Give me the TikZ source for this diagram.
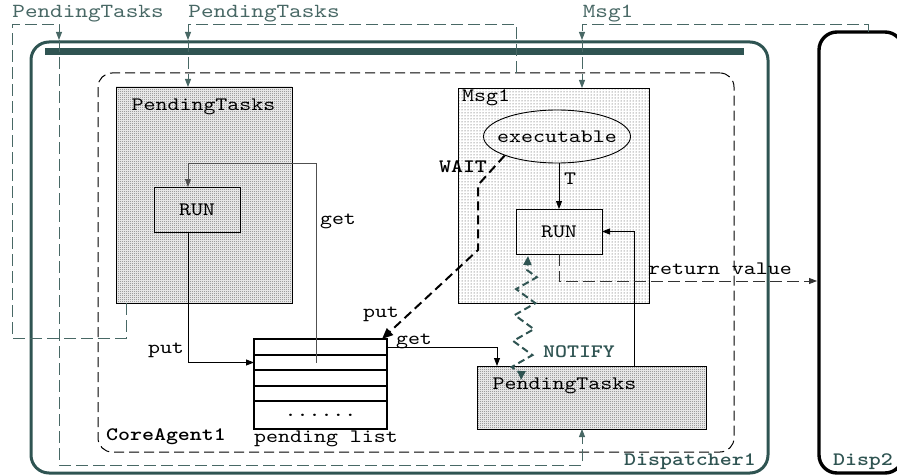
\documentclass[tikz,border=0pt]{standalone}
\usepackage{fontspec}
\setmonofont{lmmono10-regular.otf}[BoldFont=lmmonolt10-bold.otf, FakeStretch=1.2]
\usetikzlibrary{arrows.meta, patterns, patterns.meta, decorations.pathmorphing, shapes.geometric}
\definecolor{tealD}{RGB}{47,84,82}
\definecolor{tealL}{RGB}{72,104,101}
\definecolor{lineG}{RGB}{80,80,80}
\tikzdeclarepattern{
  name=densedots,
  type=uncolored,
  bounding box={(0pt,0pt) and (2pt,2pt)},
  tile size={(2pt,2pt)},
  code={
    \fill (0pt,0pt) rectangle (1pt,1pt);
    \fill (1pt,1pt) rectangle (2pt,2pt);
  }
}
\tikzset{
  txt/.style={font=\ttfamily\fontsize{19}{20}\selectfont, inner sep=0pt, text=black},
  btxt/.style={font=\ttfamily\bfseries\fontsize{19}{20}\selectfont, inner sep=0pt, text=black},
  tbtxt/.style={btxt, text=tealD},
  lbl/.style={font=\ttfamily\fontsize{20}{21}\selectfont, inner sep=0pt, text=tealL},
  box/.style={draw, line width=0.9pt, inner sep=0pt, outer sep=0pt},
  rowbox/.style={draw, line width=2pt, inner sep=0pt, outer sep=0pt, minimum width=133pt, font=\ttfamily\fontsize{19}{20}\selectfont},
  densebox/.style={box, pattern=densedots, pattern color=black!78},
  dotbox/.style={box, pattern=dots, pattern color=black!80},
  arr/.style={-{Triangle[length=8pt,width=6pt]}},
  tdash/.style={draw=tealL, line width=0.9pt, dash pattern=on 12pt off 5pt},
  gline/.style={draw=lineG, line width=0.9pt},
  bline/.style={draw=black, line width=0.9pt},
  rline/.style={draw=black!80, line width=0.9pt, dash pattern=on 12pt off 5pt},
  wline/.style={draw=black, line width=2pt, dash pattern=on 9pt off 5pt, -{Triangle[length=11pt,width=9pt]}},
  notifyline/.style={draw=tealD, line width=2pt, dash pattern=on 7pt off 4pt,
    {Triangle[length=9pt,width=8pt]}-{Triangle[length=9pt,width=8pt]},
    decorate, decoration={zigzag, segment length=26pt, amplitude=10pt, pre length=6pt, post length=8pt}},
}
\begin{document}
\begin{tikzpicture}[x=1pt,y=-1pt]
\useasboundingbox (0,0) rectangle (897,476);

% containers
\node[box, draw=tealD, line width=3pt, rounded corners=18pt, minimum width=737pt, minimum height=431pt] (disp1) at (399.5,257.5) {};
\node[box, draw=black, line width=3.4pt, rounded corners=18pt, minimum width=84pt, minimum height=441pt] (disp2) at (861,252.5) {};
\node[fill=tealD, inner sep=0pt, minimum width=699pt, minimum height=7pt] (bar) at (394.5,51.5) {};
\node[box, line width=1pt, dash pattern=on 10pt off 5pt, rounded corners=14pt, minimum width=636pt, minimum height=379pt] (core) at (416,262.5) {};

% left PendingTasks
\node[densebox, minimum width=176pt, minimum height=216pt] (ptA) at (204,195) {};
\node[txt] (ptAt) at (203.5,107) {PendingTasks};
\node[box, minimum width=86pt, minimum height=45pt, txt] (runA) at (197,209.5) {RUN};

% Msg1
\node[dotbox, minimum width=191pt, minimum height=215pt] (msg) at (553.5,195.5) {};
\node[txt, anchor=west] (msgt) at (462,98) {Msg1};
\node[draw, ellipse, line width=0.9pt, inner sep=0pt, minimum width=147pt, minimum height=53pt] (exe) at (557,136.5) {};
\node[txt] (exet) at (exe) {executable};
\node[box, minimum width=86pt, minimum height=45pt, txt] (runB) at (559,231.5) {RUN};

% bottom PendingTasks
\node[densebox, minimum width=229pt, minimum height=63pt] (ptB) at (591.5,397.5) {};
\node[txt] (ptBt) at (564.5,386) {PendingTasks};

% pending list
\node[rowbox, minimum height=16pt] (row1) at (320.5,347) {};
\node[rowbox, minimum height=15pt] (row2) at (320.5,362.5) {};
\node[rowbox, minimum height=16pt] (row3) at (320.5,378) {};
\node[rowbox, minimum height=15pt] (row4) at (320.5,393.5) {};
\node[rowbox, minimum height=28pt] (row5) at (320.5,415) {......};

% text labels
\node[lbl] (l1) at (88,14) {PendingTasks};
\node[lbl] (l2) at (264,14) {PendingTasks};
\node[lbl] (l3) at (608,14) {Msg1};
\node[txt] (getA) at (338,221) {get};
\node[txt] (putA) at (166,350) {put};
\node[txt] (putW) at (381,314) {put};
\node[txt] (getB) at (414,341) {get};
\node[txt] (tlab) at (570,179) {T};
\node[txt] (rvlab) at (720,269) {return value};
\node[btxt] (wait) at (463,167) {WAIT};
\node[tbtxt] (notify) at (579,352) {NOTIFY};
\node[btxt] (coreL) at (166,437) {CoreAgent1};
\node[txt] (plL) at (326,439) {pending list};
\node[tbtxt] (d1L) at (690,462) {Dispatcher1};
\node[tbtxt] (d2L) at (863,462) {Disp2};

% teal dashed control flows
\coordinate (jA) at (59,40);
\coordinate (jB) at (188,40);
\coordinate (jC) at (582,40);
\draw[tdash, arr] ([xshift=10pt]ptA.south west) -- (126,338) -- (12,338) -- (12,24) -- (59,24) -- (jA);
\draw[tdash, arr] (jA) -- (59,465) -| ([xshift=-9.5pt]ptB.south);
\draw[tdash, arr] (516,73) -- (516,24) -- (188,24) -- (jB);
\draw[tdash, arr] (jB) -- ([xshift=-16pt]ptA.north);
\draw[tdash, arr] ([xshift=7pt]disp2.north) -- (868,24) -- (582,24) -- (jC);
\draw[tdash, arr] (jC) -- ([xshift=28.5pt]msg.north);

% task flows
\draw[gline, arr] ([xshift=-4.5pt]row2.center) |- (188,163) -- ([xshift=-9pt]runA.north);
\draw[bline, arr] ([xshift=-9pt]runA.south) |- (row2.west);
\draw[bline, arr] (row1.east) -| ([xshift=20pt]ptB.north west);
\draw[bline, arr] ([xshift=-72pt]ptB.north east) |- (runB.east);
\draw[bline, arr] (exe.south -| runB.north) -- (runB.north);
\coordinate (rv) at (559,281);
\draw[rline, arr, shorten >=2pt] (runB.south) -- (rv) -- (rv -| disp2.west);
\draw[wline] (exe.200) -- (478,185) -- (478,250) -- ([xshift=-5pt]row1.north east);
\draw[notifyline] ([xshift=-70.5pt,yshift=-14pt]ptB.north) -- ([xshift=-31pt,yshift=-2pt]runB.south);
\end{tikzpicture}
\end{document}
